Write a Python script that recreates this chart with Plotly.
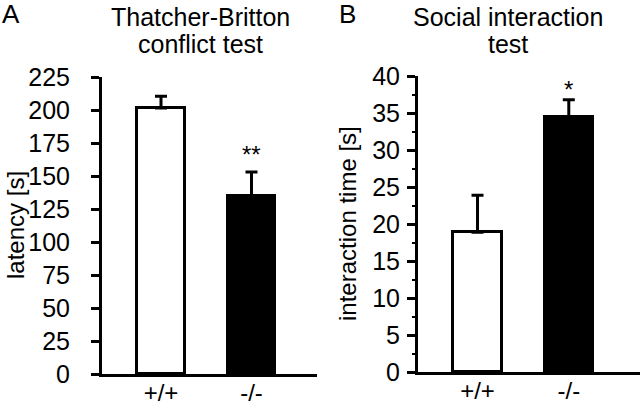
import plotly.graph_objects as go

genotypes = ["+/+", "-/-"]
latency_mean = [201.5, 135.0]
latency_sem = [9.0, 18.0]
interaction_mean = [18.9, 34.5]
interaction_sem = [5.0, 2.3]
bar_colors = ["white", "black"]
stars_a = ["", "**"]
stars_b = ["", "*"]
latency_ticks = [0, 25, 50, 75, 100, 125, 150, 175, 200, 225]
interaction_ticks = [0, 5, 10, 15, 20, 25, 30, 35, 40]

FONT = "Liberation Sans, Arial, sans-serif"
xpos = [0, 1]

fig = go.Figure()

fig.add_trace(go.Bar(
    x=xpos, y=latency_mean, width=0.53,
    marker=dict(color=bar_colors, line=dict(color="black", width=3)),
    error_y=dict(type="data", array=latency_sem, arrayminus=[0, 0], symmetric=False,
                 color="black", thickness=3, width=6),
    xaxis="x", yaxis="y", showlegend=False, hoverinfo="skip"))

fig.add_trace(go.Bar(
    x=xpos, y=interaction_mean, width=0.53,
    marker=dict(color=bar_colors, line=dict(color="black", width=3)),
    error_y=dict(type="data", array=interaction_sem, arrayminus=[0, 0], symmetric=False,
                 color="black", thickness=3, width=6),
    xaxis="x2", yaxis="y2", showlegend=False, hoverinfo="skip"))

common_x = dict(showgrid=False, zeroline=False, showline=True, linecolor="black", linewidth=3,
                ticks="", tickmode="array", tickvals=xpos, ticktext=genotypes, automargin=False,
                tickfont=dict(family=FONT, size=24, color="black"), ticklabelstandoff=-5)
common_y = dict(showgrid=False, zeroline=False, showline=True, linecolor="black", linewidth=3,
                ticks="outside", ticklen=8, tickwidth=2.5, tickcolor="black", automargin=False,
                tickfont=dict(family=FONT, size=25, color="black"))

fig.update_layout(
    template="none",
    width=640, height=405, margin=dict(l=0, r=0, t=0, b=0, pad=0, autoexpand=False),
    paper_bgcolor="white", plot_bgcolor="white", bargap=0,
    xaxis=dict(domain=[102/640, 317/640], range=[-0.652, 1.724], anchor="y", **common_x),
    yaxis=dict(domain=[31/405, 328/405], range=[0, 225], anchor="x",
               tickvals=latency_ticks, ticklabelstandoff=16, **common_y),
    xaxis2=dict(domain=[418/640, 1.0], range=[-0.652, 1.78], anchor="y2", **common_x),
    yaxis2=dict(domain=[33/405, 329/405], range=[0, 40], anchor="x2",
                tickvals=interaction_ticks, ticklabelstandoff=2,
                minor=dict(dtick=2.5, ticks="outside", ticklen=3, tickwidth=2, tickcolor="black"),
                **common_y),
)

ann = []
def txt(x, y, t, size=25, xref="paper", yref="paper", angle=0, xanchor="center", yanchor="middle"):
    ann.append(dict(x=x, y=y, xref=xref, yref=yref, text=t, showarrow=False, textangle=angle,
                    xanchor=xanchor, yanchor=yanchor,
                    font=dict(family=FONT, size=size, color="black")))

txt(0/640, 1 - 14/405, "A", size=26, xanchor="left")
txt(337/640, 1 - 14/405, "B", size=26, xanchor="left")
txt(200/640, 1 - 17/405, "Thatcher-Britton")
txt(200/640, 1 - 44/405, "conflict test")
txt(508/640, 1 - 17/405, "Social interaction")
txt(508/640, 1 - 44/405, "test")
txt(15/640, 1 - 225/405, "latency [s]", size=24, angle=-90)
txt(348/640, 1 - 224/405, "interaction time [s]", size=24, angle=-90)

for i in range(2):
    if stars_a[i]:
        ann.append(dict(x=xpos[i], y=latency_mean[i] + latency_sem[i], xref="x", yref="y",
                        text=stars_a[i], showarrow=False, yanchor="bottom", yshift=2,
                        font=dict(family=FONT, size=24, color="black")))
    if stars_b[i]:
        ann.append(dict(x=xpos[i], y=interaction_mean[i] + interaction_sem[i], xref="x2", yref="y2",
                        text=stars_b[i], showarrow=False, yanchor="bottom", yshift=-5,
                        font=dict(family=FONT, size=24, color="black")))

fig.update_layout(annotations=ann)
fig.write_html("out.html", config={"displayModeBar": False},
               post_script="document.body.style.margin='0';document.body.style.overflow='hidden';")
